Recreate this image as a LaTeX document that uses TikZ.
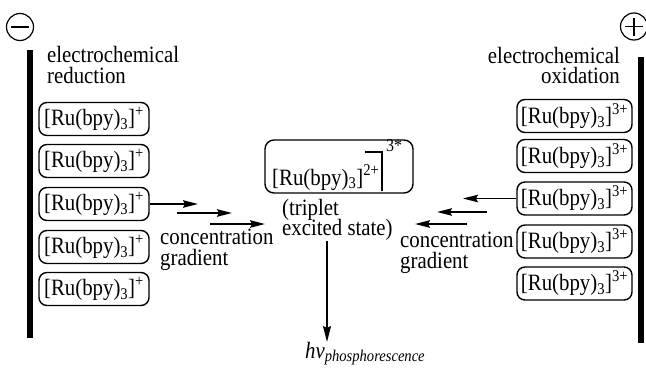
\documentclass[tikz,border=0pt]{standalone}
\usepackage{fontspec}
\setmainfont{Liberation Serif}[FakeStretch=0.89]
\usetikzlibrary{arrows.meta}
\newcommand\fsmain{\fontsize{23.4}{24}\selectfont}
\newcommand\ru[1]{[Ru(bpy)\textsubscript{3}]\textsuperscript{#1}}
\begin{document}
\begin{tikzpicture}[x=1pt,y=-1pt,
  every node/.style={font=\fsmain, inner sep=0pt},
  cbox/.style={draw, rounded corners=8pt, line width=1.4pt, minimum height=33pt, inner sep=2pt},
  lbox/.style={cbox, minimum width=110pt},
  rbox/.style={cbox, minimum width=115pt},
  arr/.style={line width=1.5pt, -{Stealth[length=15pt,width=7.5pt,inset=2pt]}},
  lbl/.style={anchor=base west, text height=15pt, text depth=4pt},
  rlbl/.style={anchor=base east, text height=15pt, text depth=4pt},
  electrode/.style={fill=black, minimum width=6pt, inner sep=0pt},
  pole/.style={circle, draw, line width=1.2pt, minimum size=27pt, inner sep=0pt}
]
\useasboundingbox (0,0) rectangle (646,372);

% electrodes
\node[pole] (minus) at (20,27) {};
\draw[line width=1.2pt] ([xshift=-9pt]minus.center) -- ([xshift=9pt]minus.center);
\node[electrode, minimum height=288pt] (lbar) at (30,194) {};

\node[pole] (plus) at (634,26.5) {};
\draw[line width=1.2pt] ([xshift=-9pt]plus.center) -- ([xshift=9pt]plus.center);
\draw[line width=1.2pt] ([yshift=-9pt]plus.center) -- ([yshift=9pt]plus.center);
\node[electrode, minimum height=286pt] (rbar) at (641,200) {};

% labels
\node[lbl] (redA) at (47,62) {electrochemical};
\node[lbl] (redB) at (47,83) {reduction};
\node[rlbl] (oxA) at (620,63) {electrochemical};
\node[rlbl] (oxB) at (620,83) {oxidation};

% left boxes
\node[lbox] (L1) at (94,119) {\ru{+}};
\node[lbox] (L2) at (94,161) {\ru{+}};
\node[lbox] (L3) at (94,204) {\ru{+}};
\node[lbox] (L4) at (94,247) {\ru{+}};
\node[lbox] (L5) at (94,289) {\ru{+}};

% right boxes
\node[rbox] (R1) at (574.5,116) {\ru{3+}};
\node[rbox] (R2) at (574.5,156) {\ru{3+}};
\node[rbox] (R3) at (574.5,198.5) {\ru{3+}};
\node[rbox] (R4) at (574.5,241.5) {\ru{3+}};
\node[rbox] (R5) at (574.5,283.5) {\ru{3+}};

% excited state box
\node[draw, rounded corners=9pt, line width=1.4pt, minimum width=148pt, minimum height=53pt] (ex) at (339,166.5) {};
\node[lbl] (exT) at (272,185) {\ru{2+}};
\draw[line width=1.2pt] (365,152) -- (382,152) -- (382,191);
\node[lbl, font=\fontsize{18}{18}\selectfont, text height=12pt, text depth=0pt] (exS) at (386,151) {3*};
\node[lbl] (trA) at (282,215) {(triplet};
\node[lbl] (trB) at (282,235) {excited state)};

% concentration gradient labels
\node[lbl] (cgLA) at (160,244) {concentration};
\node[lbl] (cgLB) at (160,265) {gradient};
\node[lbl] (cgRA) at (400,247) {concentration};
\node[lbl] (cgRB) at (400,268) {gradient};

% left arrows
\coordinate (la1) at (198,204);
\coordinate (la2s) at (177,213);
\coordinate (la2e) at (232,213);
\coordinate (la3s) at (210,224);
\coordinate (la3e) at (265,224);
\draw[arr] (L3.east) -- (la1);
\draw[arr] (la2s) -- (la2e);
\draw[arr] (la3s) -- (la3e);

% right arrows
\coordinate (ra1) at (463,198.5);
\coordinate (ra2s) at (487,212);
\coordinate (ra2e) at (437,212);
\coordinate (ra3s) at (467,224);
\coordinate (ra3e) at (415,224);
\draw[arr] (R3.west) -- (ra1);
\draw[arr] (ra2s) -- (ra2e);
\draw[arr] (ra3s) -- (ra3e);

% emission
\coordinate (dstart) at (327,241);
\coordinate (dend) at (327,342);
\draw[arr, -{Stealth[length=16pt,width=8pt,inset=2pt]}] (dstart) -- (dend);
\node[lbl] (hv) at (305,358) {\itshape hν\textsubscript{phosphorescence}};
\end{tikzpicture}
\end{document}
